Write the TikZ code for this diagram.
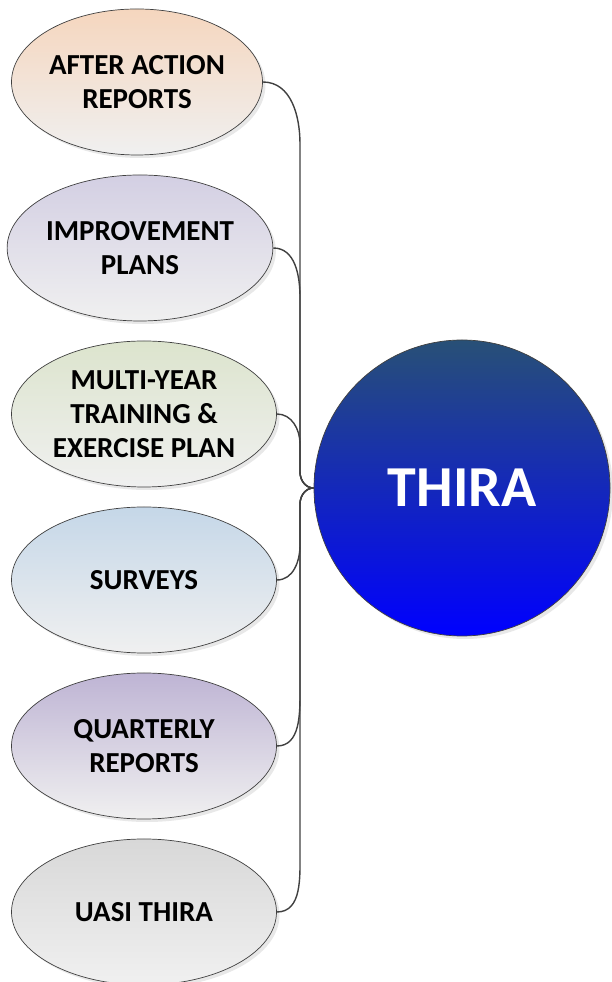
\documentclass[tikz,border=0pt]{standalone}
\usepackage{fontspec}
\setmainfont{Carlito}
\usepackage{tikz}
\usetikzlibrary{shapes.geometric}
\usetikzlibrary{shadows}
\usetikzlibrary{calc}
\definecolor{edge}{RGB}{64, 64, 64}
\definecolor{fade}{RGB}{240, 240, 240}
\definecolor{peach}{RGB}{245, 214, 190}
\definecolor{lilac}{RGB}{211, 207, 227}
\definecolor{sage}{RGB}{220, 228, 205}
\definecolor{sky}{RGB}{197, 215, 232}
\definecolor{mauve}{RGB}{190, 180, 212}
\definecolor{stone}{RGB}{216, 216, 216}
\definecolor{deepteal}{RGB}{40, 80, 118}
\tikzset{
    src/.style={ellipse, draw=edge, line width=0.7pt, inner sep=0pt,
        minimum width=265pt, minimum height=146pt, align=center,
        font=\fontsize{29}{34}\selectfont\bfseries, bottom color=fade,
        drop shadow={opacity=0.18, shadow xshift=3pt, shadow yshift=-3pt}},
    link/.style={draw=edge, line width=1.4pt}
}

\begin{document}
\begin{tikzpicture}[x=1pt, y=1pt]
    \useasboundingbox (0,0) rectangle (612,982);

    % sources on the left
    \node[src, top color=peach, minimum width=251pt] (aar) at (137,900) {AFTER ACTION\\REPORTS};
    \node[src, top color=lilac, minimum width=257pt] (imp) at (140,734) {IMPROVEMENT\\PLANS};
    \node[src, top color=sage] (myt) at (144,568) {MULTI-YEAR\\TRAINING \&\\EXERCISE PLAN};
    \node[src, top color=sky] (srv) at (144,402) {SURVEYS};
    \node[src, top color=mauve] (qtr) at (144,236) {QUARTERLY\\REPORTS};
    \node[src, top color=stone] (uasi) at (144,70) {UASI THIRA};

    % target
    \node[circle, draw=edge, line width=0.7pt, minimum size=296pt, inner sep=0pt,
        top color=deepteal, bottom color=blue, text=white,
        font=\fontsize{58}{60}\selectfont\bfseries,
        drop shadow={opacity=0.18, shadow xshift=3pt, shadow yshift=-3pt}] (thira) at (462,494) {THIRA};

    \coordinate (trunk) at (300,494);

    % connectors
    \foreach \n/\r in {aar/62, imp/50, myt/30}
        \draw[link] (\n.east) to[out=0,in=90] ($(\n.east -| trunk)+(0,-\r)$) -- ($(trunk)+(0,16)$) to[out=-90,in=180] (thira.west);
    \foreach \n/\r in {srv/35, qtr/55, uasi/60}
        \draw[link] (\n.east) to[out=0,in=-90] ($(\n.east -| trunk)+(0,\r)$) -- ($(trunk)+(0,-16)$) to[out=90,in=180] (thira.west);

\end{tikzpicture}
\end{document}
